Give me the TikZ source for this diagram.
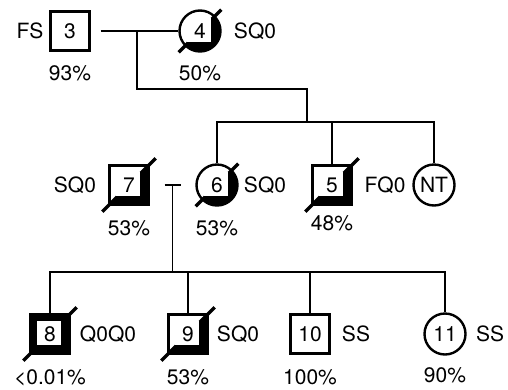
\documentclass[tikz,border=0pt]{standalone}
\usepackage{fontspec}
\setmainfont{TeX Gyre Heros}
\usetikzlibrary{positioning, calc, backgrounds}

\newcommand{\labelbox}{\fill[white] ([shift={(-13,-13)}]path picture bounding box.center) rectangle ++(24,24);}

\begin{document}
\begin{tikzpicture}[x=1pt, y=-1pt, node distance=42pt, on grid, line width=1.8pt,
	every node/.style={font=\fontsize{21}{23}\selectfont},
	male/.style={draw, rectangle, minimum size=39pt, inner sep=0pt, line width=2.4pt},
	female/.style={draw, circle, minimum size=41pt, inner sep=0pt, line width=2.4pt},
	carrier/.style={fill=white, path picture={
		\fill[black] (path picture bounding box.south west) -- (path picture bounding box.north east) -- (path picture bounding box.south east) -- cycle;
		\draw[black, line width=3.5pt] (path picture bounding box.south west) -- (path picture bounding box.north east);
		\labelbox}},
	affected/.style={fill=black, path picture={\labelbox}},
	deceased/.style={line width=3.5pt}]
			\useasboundingbox (0,0) rectangle (508,389);
			
			% first generation
			\node[male] (sq3) at (70,31) {3};
			\node[female, carrier] (c4) [right=130pt of sq3] {4};
			\node (fs) [left=40pt of sq3] {FS};
			\node (p3) [below=42pt of sq3] {93\%};
			\node (g4) [right=55pt of c4] {SQ0};
			\node (p4) [below=42pt of c4] {50\%};
			
			% second generation
			\node[male, carrier] (sq7) at (129,185) {7};
			\node[female, carrier] (c6) [right=88pt of sq7] {6};
			\node[male, carrier] (sq5) [right=115pt of c6] {5};
			\node[female] (nt) [right=102pt of sq5] {NT};
			\node (g7) [left=54pt of sq7] {SQ0};
			\node (p7) [below=43pt of sq7] {53\%};
			\node (g6) [right=48pt of c6] {SQ0};
			\node (p6) [below=43pt of c6] {53\%};
			\node (g5) [right=53pt of sq5] {FQ0};
			\node (p5) [below=38pt of sq5] {48\%};
			
			% third generation
			\node[male, affected] (sq8) at (50,334) {8};
			\node[male, carrier] (sq9) [right=138pt of sq8] {9};
			\node[male] (sq10) [right=122pt of sq9] {10};
			\node[female] (c11) [right=135pt of sq10] {11};
			\node (g8) [right=58pt of sq8] {Q0Q0};
			\node (p8) [below=44pt of sq8] {<0.01\%};
			\node (g9) [right=50pt of sq9] {SQ0};
			\node (p9) [below=43pt of sq9] {53\%};
			\node (g10) [right=46pt of sq10] {SS};
			\node (p10) [below=43pt of sq10] {100\%};
			\node (g11) [right=45pt of c11] {SS};
			\node (p11) [below=41pt of c11] {90\%};
			
			\coordinate (m1) at ($(sq3.east)!0.53!(c4.west)$);
			\coordinate (j1) at (307,89);
			\coordinate (sib1) at (307,122);
			\coordinate (m2) at ($(sq7.east)!0.5!(c6.west)$);
			\path (m2) ++(0,87) coordinate (sib2);
			
			\draw ([xshift=10pt]sq3.east) -- (c4.west);
			\draw (m1) |- (j1) -- (sib1);
			\draw (c6.north) |- (sib1) -| (nt.north);
			\draw (sq5.north) -- (sq5.north |- sib1);
			
			\draw ([xshift=-8pt]m2) -- ([xshift=8pt]m2);
			\draw (m2) -- (sib2);
			\draw (sq8.north) |- (sib2) -| (c11.north);
			\draw (sq9.north) -- (sq9.north |- sib2);
			\draw (sq10.north) -- (sq10.north |- sib2);
			
			\begin{scope}[on background layer]
			\draw[deceased] ([shift={(-6,6)}]c4.south west) -- ([shift={(6,-6)}]c4.north east);
			\draw[deceased] ([shift={(-6,6)}]sq7.south west) -- ([shift={(6,-6)}]sq7.north east);
			\draw[deceased] ([shift={(-6,6)}]c6.south west) -- ([shift={(6,-6)}]c6.north east);
			\draw[deceased] ([shift={(-6,6)}]sq5.south west) -- ([shift={(6,-6)}]sq5.north east);
			\draw[deceased] ([shift={(-6,6)}]sq8.south west) -- ([shift={(6,-6)}]sq8.north east);
			\draw[deceased] ([shift={(-6,6)}]sq9.south west) -- ([shift={(6,-6)}]sq9.north east);
			\end{scope}
			
		\end{tikzpicture}
\end{document}
